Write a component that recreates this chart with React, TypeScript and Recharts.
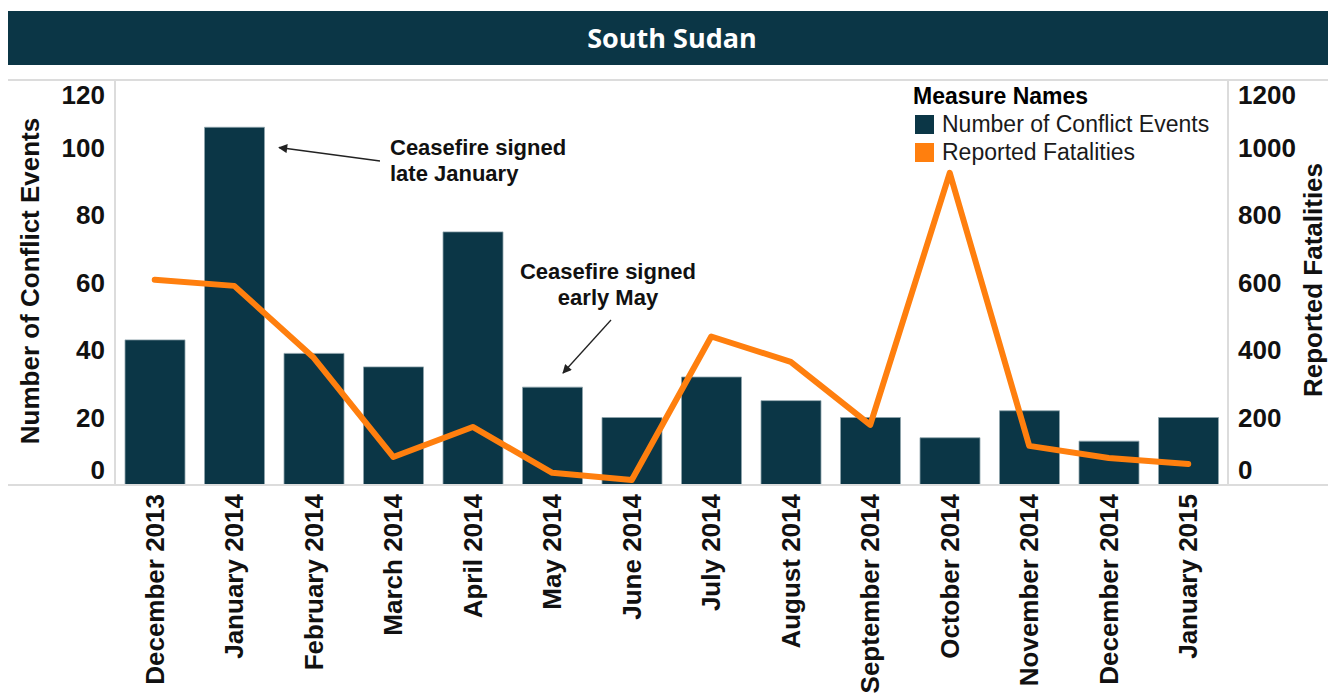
import React from "react"
import { Bar, ComposedChart, Legend, Line, XAxis, YAxis } from "recharts"

if (typeof document !== "undefined") document.body.style.margin = "0"

const months = [
  "December 2013",
  "January 2014",
  "February 2014",
  "March 2014",
  "April 2014",
  "May 2014",
  "June 2014",
  "July 2014",
  "August 2014",
  "September 2014",
  "October 2014",
  "November 2014",
  "December 2014",
  "January 2015",
]

const conflictEvents = [43, 106, 39, 35, 75, 29, 20, 32, 25, 20, 14, 22, 13, 20]

const reportedFatalities = [608, 590, 377, 83, 172, 36, 15, 440, 365, 178, 925, 116, 80, 62]

const eventTicks = [0, 20, 40, 60, 80, 100, 120]
const fatalityTicks = [0, 200, 400, 600, 800, 1000, 1200]

const data = months.map((month, i) => ({
  month,
  events: conflictEvents[i],
  fatalities: reportedFatalities[i],
}))

const FONT = "'Liberation Sans', Arial, Helvetica, sans-serif"
const TEAL = "#0b3646"
const ORANGE = "#ff7f0e"
const FRAME = "#dcdcdc"

function makeYTick(anchor: "start" | "end", max: number) {
  return (props: any) => {
    const { x, y, payload } = props
    let dy = 0
    if (payload.value === max) dy = 15
    if (payload.value === 0) dy = -15
    return (
      <text
        x={x}
        y={y + dy}
        textAnchor={anchor}
        dominantBaseline="central"
        fontFamily={FONT}
        fontWeight="bold"
        fontSize={26}
        fill="#111"
      >
        {payload.value}
      </text>
    )
  }
}

function MonthTick(props: any) {
  const { x, y, payload } = props
  return (
    <text
      transform={`translate(${x},${y + 1}) rotate(-90)`}
      textAnchor="end"
      dominantBaseline="central"
      fontFamily={FONT}
      fontWeight="bold"
      fontSize={26}
      fill="#111"
    >
      {payload.value}
    </text>
  )
}

function LegendBox(props: any) {
  const items = props.payload || []
  return (
    <div style={{ fontFamily: FONT, fontSize: 23, lineHeight: "28px", color: "#1a1a1a" }}>
      <div style={{ fontWeight: "bold", color: "#000" }}>Measure Names</div>
      {items.map((item: any) => (
        <div key={item.value} style={{ display: "flex", alignItems: "center" }}>
          <span
            style={{
              display: "inline-block",
              width: 19,
              height: 19,
              background: item.color,
              marginLeft: 2,
              marginRight: 8,
            }}
          />
          {item.value}
        </div>
      ))}
    </div>
  )
}

export default function App() {
  return (
    <div style={{ position: "relative", width: 1328, height: 694, overflow: "hidden", background: "#fff" }}>
      <div
        style={{
          position: "absolute",
          top: 11,
          left: 8,
          width: 1320,
          height: 54,
          background: TEAL,
          color: "#fff",
          textAlign: "center",
          lineHeight: "54px",
          fontFamily: "'Open Sans', sans-serif",
          fontWeight: "bold",
          fontSize: 27,
          paddingLeft: 8,
          boxSizing: "border-box",
        }}
      >
        South Sudan
      </div>

      <div style={{ position: "absolute", top: 66, left: 8 }}>
        <ComposedChart
          width={1320}
          height={628}
          data={data}
          margin={{ top: 14, right: 0, bottom: 0, left: 0 }}
        >
          <XAxis
            dataKey="month"
            interval={0}
            height={209}
            tickLine={false}
            axisLine={{ stroke: FRAME, strokeWidth: 2 }}
            tick={MonthTick}
          />
          <YAxis
            yAxisId="left"
            orientation="left"
            width={107}
            domain={[0, 120]}
            ticks={eventTicks}
            tickLine={false}
            tickSize={0}
            tickMargin={10}
            axisLine={{ stroke: FRAME, strokeWidth: 2 }}
            tick={makeYTick("end", 120)}
          />
          <YAxis
            yAxisId="right"
            orientation="right"
            width={100}
            domain={[0, 1200]}
            ticks={fatalityTicks}
            tickLine={false}
            tickSize={0}
            tickMargin={10}
            axisLine={{ stroke: FRAME, strokeWidth: 2 }}
            tick={makeYTick("start", 1200)}
          />
          <Legend
            layout="vertical"
            align="center"
            verticalAlign="middle"
            content={LegendBox}
            wrapperStyle={{ position: "absolute", top: 16, left: 905, width: 330 }}
          />
          <Bar
            yAxisId="left"
            dataKey="events"
            name="Number of Conflict Events"
            fill={TEAL}
            stroke="#8fa5ac"
            strokeWidth={0.8}
            barSize={60}
            isAnimationActive={false}
          />
          <Line
            yAxisId="right"
            type="linear"
            dataKey="fatalities"
            name="Reported Fatalities"
            stroke={ORANGE}
            strokeWidth={6}
            strokeLinejoin="round"
            strokeLinecap="round"
            dot={false}
            activeDot={false}
            isAnimationActive={false}
          />
        </ComposedChart>
      </div>

      <svg
        width={1328}
        height={694}
        style={{ position: "absolute", top: 0, left: 0, pointerEvents: "none" }}
      >
        <defs>
          <marker id="head" viewBox="0 0 10 10" refX="9" refY="5" markerWidth="9" markerHeight="7" orient="auto">
            <path d="M0,0 L10,5 L0,10 z" fill="#222" />
          </marker>
        </defs>
        <line x1={8} y1={80} x2={1328} y2={80} stroke={FRAME} strokeWidth={2} />
        <line x1={8} y1={485} x2={1328} y2={485} stroke={FRAME} strokeWidth={2} />

        <text
          transform="translate(30,281) rotate(-90)"
          textAnchor="middle"
          dominantBaseline="central"
          fontFamily={FONT}
          fontWeight="bold"
          fontSize={26}
          fill="#111"
        >
          Number of Conflict Events
        </text>
        <text
          transform="translate(1313,280) rotate(-90)"
          textAnchor="middle"
          dominantBaseline="central"
          fontFamily={FONT}
          fontWeight="bold"
          fontSize={26}
          fill="#111"
        >
          Reported Fatalities
        </text>

        <line x1={380} y1={161} x2={279} y2={147.5} stroke="#222" strokeWidth={1.3} markerEnd="url(#head)" />
        <text fontFamily={FONT} fontWeight="bold" fontSize={22} fill="#111" dominantBaseline="central">
          <tspan x={390} y={147}>Ceasefire signed</tspan>
          <tspan x={390} y={173}>late January</tspan>
        </text>

        <line x1={611} y1={320} x2={563} y2={373} stroke="#222" strokeWidth={1.3} markerEnd="url(#head)" />
        <text fontFamily={FONT} fontWeight="bold" fontSize={22} fill="#111" textAnchor="middle" dominantBaseline="central">
          <tspan x={608} y={271}>Ceasefire signed</tspan>
          <tspan x={608} y={297}>early May</tspan>
        </text>
      </svg>
    </div>
  )
}
